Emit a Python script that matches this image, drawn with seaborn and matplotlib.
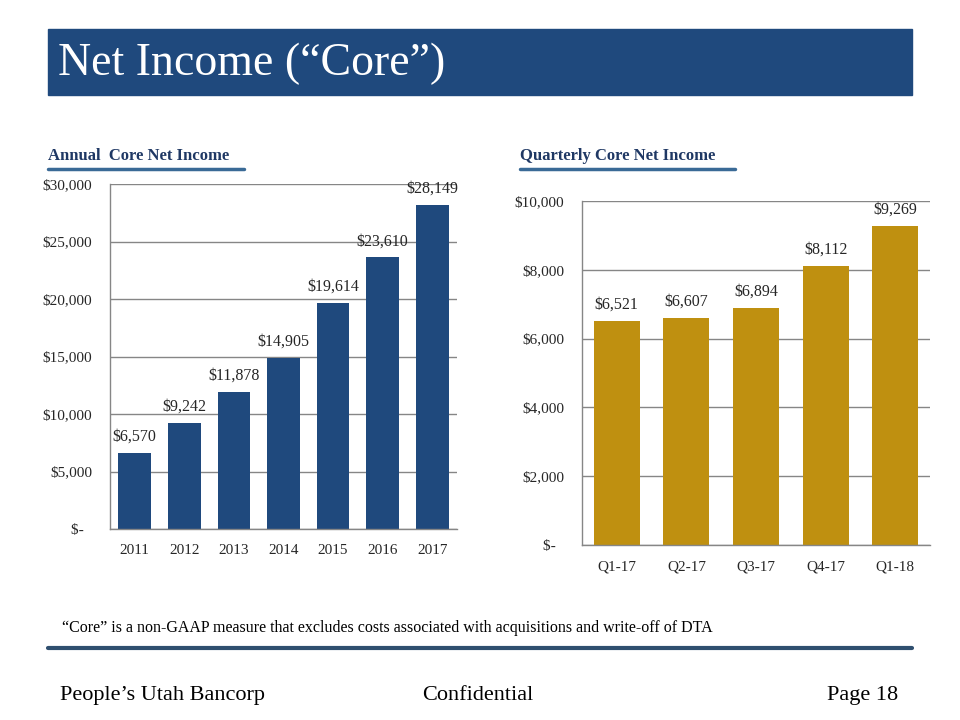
import matplotlib
matplotlib.use("Agg")
import matplotlib.pyplot as plt
import seaborn as sns
import pandas as pd
import numpy as np
from matplotlib.patches import Rectangle
from matplotlib.lines import Line2D

sns.set_theme(style="white")
plt.rcParams['font.family'] = ['Liberation Serif', 'DejaVu Serif']

# ---- data ----
years = ["2011", "2012", "2013", "2014", "2015", "2016", "2017"]
annual_income = [6570, 9242, 11878, 14905, 19614, 23610, 28149]
quarters = ["Q1-17", "Q2-17", "Q3-17", "Q4-17", "Q1-18"]
quarterly_income = [6521, 6607, 6894, 8112, 9269]
annual_ticks = [0, 5000, 10000, 15000, 20000, 25000, 30000]
quarterly_ticks = [0, 2000, 4000, 6000, 8000, 10000]

NAVY = "#1F497D"
GOLD = "#BF9010"
GRID = "#868686"
TEXT = "#262626"

W, H = 960, 720
fig = plt.figure(figsize=(9.6, 7.2), dpi=100)

def px(x0, y0, x1, y1):
    return [x0 / W, 1 - y1 / H, (x1 - x0) / W, (y1 - y0) / H]

def money(v):
    return "$-  " if v == 0 else f"${v:,.0f}"

def draw(ax, cats, vals, ticks, color):
    df = pd.DataFrame({"cat": cats, "val": vals})
    sns.barplot(data=df, x="cat", y="val", color=color, width=0.66,
                saturation=1, ax=ax, edgecolor="none")
    ax.set_ylim(ticks[0], ticks[-1])
    ax.set_xlim(-0.5, len(cats) - 0.5)
    ax.set_yticks(ticks)
    ax.set_yticklabels([money(t) for t in ticks], fontsize=11, color=TEXT)
    ax.set_xticks(range(len(cats)))
    ax.set_xticklabels(cats, fontsize=11, color=TEXT)
    ax.set_xticks(np.arange(-0.5, len(cats), 1.0), minor=True)
    ax.tick_params(axis="x", which="major", length=0, pad=11)
    ax.tick_params(axis="x", which="minor", length=5, color=GRID, width=1, direction="out")
    ax.tick_params(axis="y", length=4, color=GRID, width=1, direction="out", pad=9)
    ax.yaxis.grid(True, color=GRID, linewidth=1)
    ax.xaxis.grid(False)
    ax.set_axisbelow(True)
    for s in ["top", "right"]:
        ax.spines[s].set_visible(False)
    for s in ["left", "bottom"]:
        ax.spines[s].set_color(GRID)
        ax.spines[s].set_linewidth(1)
    ax.set_xlabel("")
    ax.set_ylabel("")
    for i, v in enumerate(vals):
        ax.annotate(money(v), (i, v), xytext=(0, 6), textcoords="offset points",
                    ha="center", va="bottom", fontsize=11.5, color=TEXT)

ax1 = fig.add_axes(px(110, 184, 457, 529))
draw(ax1, years, annual_income, annual_ticks, NAVY)
ax2 = fig.add_axes(px(582, 201, 930, 545))
draw(ax2, quarters, quarterly_income, quarterly_ticks, GOLD)

# ---- decorations ----
fig.patches.append(Rectangle((48 / W, 1 - 95 / H), (912 - 48) / W, (95 - 29) / H,
                             transform=fig.transFigure, color="#1F497D", zorder=0))
fig.text(58 / W, 1 - 64 / H, "Net Income (\u201cCore\u201d)", color="white",
         fontsize=33, va="center", ha="left")

fig.text(48 / W, 1 - 156 / H, "Annual  Core Net Income", color="#1F3864",
         fontsize=12, fontweight="bold", va="center", ha="left")
fig.lines.append(Line2D([48 / W, 244 / W], [1 - 169 / H] * 2, transform=fig.transFigure,
                        color="#3A6A96", linewidth=2.5))
fig.text(520 / W, 1 - 156 / H, "Quarterly Core Net Income", color="#1F3864",
         fontsize=12, fontweight="bold", va="center", ha="left")
fig.lines.append(Line2D([520 / W, 735 / W], [1 - 169 / H] * 2, transform=fig.transFigure,
                        color="#3A6A96", linewidth=2.5))

fig.text(62 / W, 1 - 632 / H,
         "\u201cCore\u201d is a non-GAAP measure that excludes costs associated with acquisitions and write-off of DTA",
         color="black", fontsize=11.5, va="baseline", ha="left")
fig.lines.append(Line2D([48 / W, 912 / W], [1 - 648 / H] * 2, transform=fig.transFigure,
                        color="#2F4F6F", linewidth=3))

fig.text(60 / W, 1 - 700 / H, "People\u2019s Utah Bancorp", fontsize=16, color="black",
         va="baseline", ha="left")
fig.text(478 / W, 1 - 700 / H, "Confidential", fontsize=16, color="black",
         va="baseline", ha="center")
fig.text(898 / W, 1 - 700 / H, "Page 18", fontsize=16, color="black",
         va="baseline", ha="right")

fig.savefig("out.png", dpi=100)
